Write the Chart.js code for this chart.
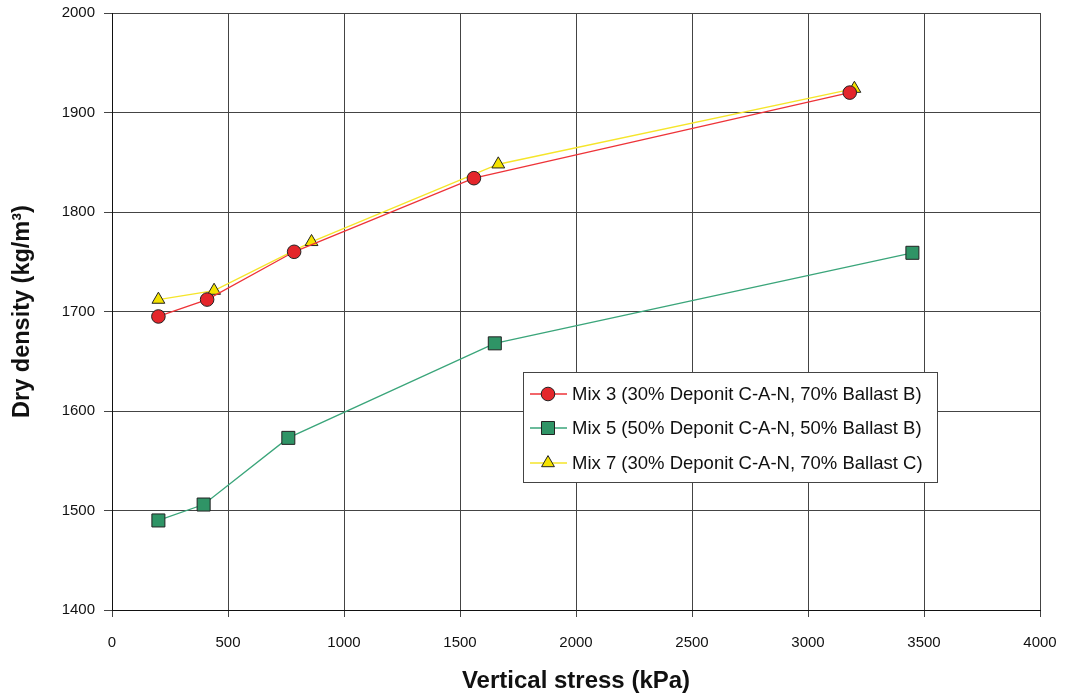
<!DOCTYPE html>
<html>
<head>
<meta charset="utf-8">
<script src="https://cdn.jsdelivr.net/npm/chart.js@4/dist/chart.umd.min.js"></script>
<style>
  html, body { margin: 0; padding: 0; background: #fff; }
  #wrap { width: 1065px; height: 698px; }
</style>
</head>
<body>
<div id="wrap"><canvas id="chartDensity" width="1065" height="698"></canvas></div>
<script>
// Datos
const seriesLabels = [
    'Mix 3 (30% Deponit C-A-N, 70% Ballast B)',
    'Mix 5 (50% Deponit C-A-N, 50% Ballast B)',
    'Mix 7 (30% Deponit C-A-N, 70% Ballast C)'
];
const mix3Stress = [200, 410, 785, 1560, 3180];
const mix3Density = [1695, 1712, 1760, 1834, 1920];
const mix5Stress = [200, 395, 760, 1650, 3450];
const mix5Density = [1490, 1506, 1573, 1668, 1759];
const mix7Stress = [200, 440, 860, 1665, 3200];
const mix7Density = [1712, 1721, 1770, 1848, 1924];

const xTicks = [0, 500, 1000, 1500, 2000, 2500, 3000, 3500, 4000];
const yTicks = [1400, 1500, 1600, 1700, 1800, 1900, 2000];

const toPoints = (xs, ys) => xs.map((x, i) => ({ x: x, y: ys[i] }));

const FONT = '"Liberation Sans", Arial, sans-serif';

// Leyenda dentro del área del gráfico
const innerLegend = {
    id: 'innerLegend',
    afterDraw(chart) {
        const ctx = chart.ctx;
        const box = { x: 523, y: 372, w: 414, h: 110 };
        const rows = [394, 428, 463];
        ctx.save();
        ctx.fillStyle = '#fff';
        ctx.fillRect(box.x, box.y, box.w, box.h);
        ctx.strokeStyle = '#444';
        ctx.lineWidth = 1;
        ctx.strokeRect(box.x + 0.5, box.y + 0.5, box.w, box.h);
        chart.data.datasets.forEach((ds, i) => {
            const y = rows[i];
            ctx.strokeStyle = ds.borderColor;
            ctx.lineWidth = ds.borderWidth;
            ctx.beginPath();
            ctx.moveTo(530, y);
            ctx.lineTo(567, y);
            ctx.stroke();
            ctx.fillStyle = ds.pointBackgroundColor;
            ctx.strokeStyle = ds.pointBorderColor;
            ctx.lineWidth = ds.pointBorderWidth;
            Chart.helpers.drawPoint(ctx, {
                pointStyle: ds.pointStyle,
                radius: ds.pointRadius,
                rotation: 0,
                borderWidth: ds.pointBorderWidth
            }, 548, y);
            ctx.fillStyle = '#111';
            ctx.font = '18.5px ' + FONT;
            ctx.textBaseline = 'middle';
            ctx.textAlign = 'left';
            ctx.fillText(ds.label, 572, y + 1);
        });
        ctx.restore();
    }
};

const ctx = document.getElementById('chartDensity').getContext('2d');
new Chart(ctx, {
    type: 'scatter',
    data: {
        datasets: [{
            label: seriesLabels[0],
            data: toPoints(mix3Stress, mix3Density),
            showLine: true,
            borderColor: '#ee3338',
            borderWidth: 1.3,
            pointStyle: 'circle',
            pointRadius: 6.8,
            pointBackgroundColor: '#e4262b',
            pointBorderColor: '#222',
            pointBorderWidth: 1
        }, {
            label: seriesLabels[1],
            data: toPoints(mix5Stress, mix5Density),
            showLine: true,
            borderColor: '#3aa57a',
            borderWidth: 1.3,
            pointStyle: 'rect',
            pointRadius: 9.2,
            pointBackgroundColor: '#2f9466',
            pointBorderColor: '#222',
            pointBorderWidth: 1
        }, {
            label: seriesLabels[2],
            data: toPoints(mix7Stress, mix7Density),
            showLine: true,
            borderColor: '#f5e52a',
            borderWidth: 1.3,
            pointStyle: 'triangle',
            pointRadius: 7.4,
            pointBackgroundColor: '#f4e200',
            pointBorderColor: '#222',
            pointBorderWidth: 1
        }]
    },
    options: {
        responsive: false,
        animation: false,
        devicePixelRatio: 1,
        layout: { padding: { left: 0, top: 13, right: 25, bottom: 0 } },
        plugins: {
            legend: { display: false },
            tooltip: { enabled: false }
        },
        scales: {
            x: {
                type: 'linear',
                min: 0,
                max: 4000,
                afterBuildTicks: (scale) => { scale.ticks = xTicks.map(v => ({ value: v })); },
                afterFit: (scale) => {
                    scale.height = 88;
                    scale.paddingLeft = 0;
                    scale.paddingRight = 0;
                },
                grid: { color: '#444', lineWidth: 1, tickLength: 7 },
                border: { color: '#111', width: 1 },
                ticks: {
                    color: '#111',
                    font: { family: FONT, size: 15 },
                    padding: 17,
                    callback: (v) => String(v)
                },
                title: {
                    display: true,
                    text: 'Vertical stress (kPa)',
                    color: '#111',
                    font: { family: FONT, size: 24, weight: 'bold' },
                    padding: { top: 0, bottom: 2 }
                }
            },
            y: {
                type: 'linear',
                min: 1400,
                max: 2000,
                afterBuildTicks: (scale) => { scale.ticks = yTicks.map(v => ({ value: v })); },
                afterFit: (scale) => {
                    scale.width = 112;
                    scale.paddingTop = 0;
                    scale.paddingBottom = 0;
                },
                grid: { color: '#444', lineWidth: 1, tickLength: 8 },
                border: { color: '#111', width: 1 },
                ticks: {
                    color: '#111',
                    font: { family: FONT, size: 15 },
                    padding: 9,
                    callback: (v) => String(v)
                },
                title: {
                    display: true,
                    text: 'Dry density (kg/m³)',
                    color: '#111',
                    font: { family: FONT, size: 23.5, weight: 'bold' },
                    padding: { top: 8, bottom: 0 }
                }
            }
        }
    },
    plugins: [innerLegend]
});
</script>
</body>
</html>
